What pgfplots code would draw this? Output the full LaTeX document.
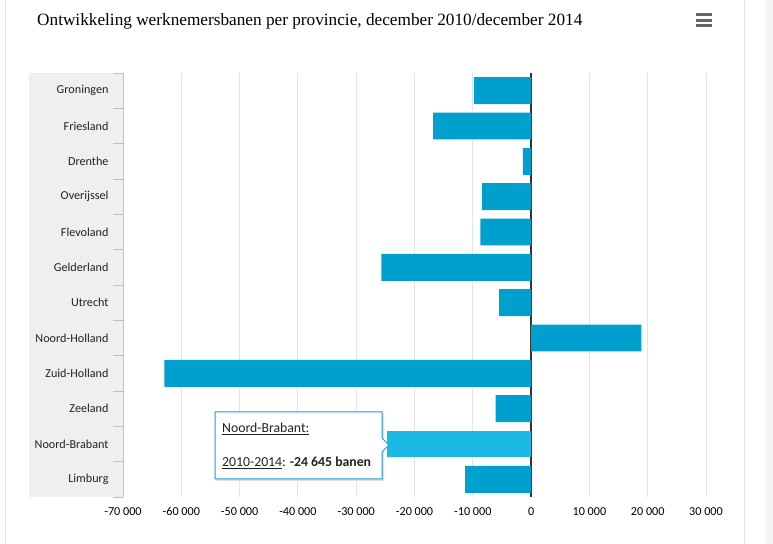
\documentclass[border=0pt]{standalone}
\usepackage{pgfplots}
\pgfplotsset{compat=1.18}
\usepackage{fontspec}
\setmainfont{Carlito}
\newfontfamily\titlefont{Liberation Serif}
\definecolor{bar}{HTML}{00A0CE}
\definecolor{barhi}{HTML}{1CB9E6}
\definecolor{tipborder}{HTML}{1E9BD7}
\definecolor{gridc}{HTML}{E4E4E4}
\definecolor{labbg}{HTML}{EFEFEF}
\definecolor{axc}{HTML}{C0C0C0}
\definecolor{txt}{HTML}{222222}

\begin{document}
\begin{tikzpicture}[x=1bp,y=1bp]
  \useasboundingbox (0,0) rectangle (773,544);
  % page frame
  \fill[white] (0,0) rectangle (773,544);
  \draw[gridc, line width=1bp] (5,0) -- (5,544);
  \draw[gridc, line width=1bp] (744,0) -- (744,544);
  \fill[black!4] (766,0) rectangle (773,544);
  % title and menu icon
  \node[anchor=base west, inner sep=0pt, font=\titlefont\fontsize{17.3}{19}\selectfont]
    at (37,518) {Ontwikkeling werknemersbanen per provincie, december 2010/december 2014};
  \foreach \yy in {529,523.5,518}
    \draw[black!60, line width=3bp] (696,\yy) -- (712,\yy);
  % grey band behind the category names
  \fill[labbg] (29,47) rectangle (123,471);

  \begin{axis}[
    at={(123bp,47bp)}, anchor=south west,
    scale only axis, width=583bp, height=424bp,
    xbar, bar shift=0pt, bar width=0.76,
    xmin=-70000, xmax=30000,
    xtick={-70000,-60000,...,30000},
    scaled x ticks=false,
    ymin=-0.5, ymax=11.5, y dir=reverse,
    ytick={0,...,11},
    yticklabels={Groningen,Friesland,Drenthe,Overijssel,Flevoland,Gelderland,Utrecht,Noord-Holland,Zuid-Holland,Zeeland,Noord-Brabant,Limburg},
    minor ytick={-0.5,0.5,...,11.5},
    major tick length=0pt,
    minor tick length=10bp,
    tick align=outside,
    minor tick style={axc, line width=0.8bp},
    axis x line*=bottom, axis y line*=left,
    x axis line style={draw=none},
    y axis line style={axc, line width=1bp},
    xmajorgrids, grid style={gridc, line width=1bp},
    extra x ticks={0}, extra x tick labels={},
    extra x tick style={grid style={black!80, line width=1.8bp}},
    /pgf/number format/assume math mode=true,
    /pgf/number format/1000 sep={\ },
    ticklabel style={font=\fontsize{12.2}{14}\selectfont, text=txt},
    xticklabel style={yshift=-7bp, text=black},
    yticklabel style={xshift=-11bp},
  ]
    \addplot[fill=bar, draw=none] coordinates {
      (-9800,0) (-16800,1) (-1400,2) (-8400,3) (-8700,4) (-25700,5)
      (-5500,6) (18900,7) (-62900,8) (-6100,9) (-11300,11)
    };
    \addplot[fill=barhi, draw=none] coordinates {(-24645,10)};
  \end{axis}

  % tooltip
  \fill[black!12] (217,63) rectangle (384,130);
  \draw[tipborder, fill=white, line width=1bp]
    (215,132) -- (382,132) -- (382,106) -- (389,99) -- (382,92) -- (382,65) -- (215,65) -- cycle;
  \node[anchor=west, inner sep=0pt, text=txt, font=\fontsize{13.8}{15}\selectfont]
    at (222,115) {\underline{Noord-Brabant:}};
  \node[anchor=west, inner sep=0pt, text=txt, font=\fontsize{13.8}{15}\selectfont]
    at (222,81) {\underline{2010-2014}: \textbf{-24 645 banen}};
\end{tikzpicture}
\end{document}
